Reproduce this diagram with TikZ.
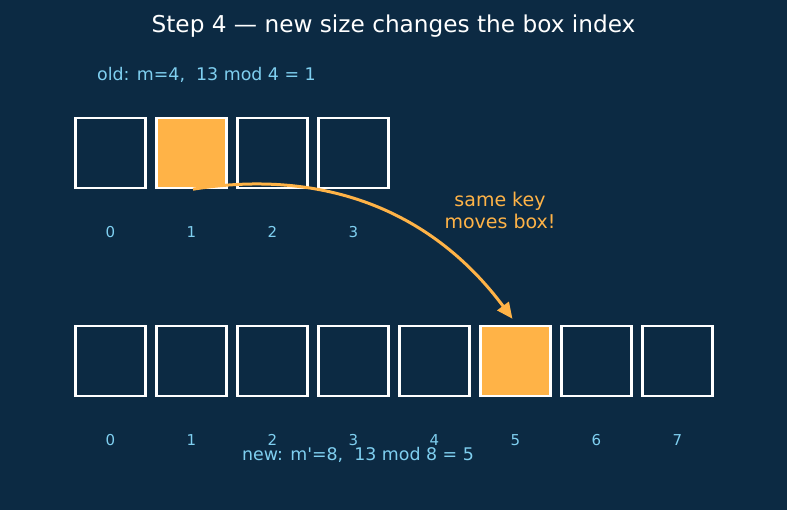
\documentclass[tikz,border=0pt]{standalone}
\usepackage{fontspec}
\setmainfont{DejaVu Sans}[Ligatures=TeXOff]
\usetikzlibrary{arrows.meta}
\definecolor{bg}{HTML}{0C2A43}
\definecolor{idx}{HTML}{7FCFF0}
\definecolor{hl}{HTML}{FFB347}
\begin{document}
\begin{tikzpicture}[x=1pt,y=-1pt,
  cell/.style={draw=white,line width=2.4pt,minimum size=70pt,inner sep=0pt,fill=bg},
  hot/.style={cell,fill=hl},
  idxlab/.style={text=idx,font=\fontsize{15}{18}\selectfont},
  note/.style={text=idx,font=\fontsize{17.4}{21}\selectfont}]
\fill[bg] (0,0) rectangle (787,510);
\useasboundingbox (0,0) rectangle (787,510);
\node[text=white,font=\fontsize{23.2}{28}\selectfont] (title) at (393.5,26.5) {Step 4 — new size changes the box index};
\node[note,anchor=west,inner sep=0pt] (old) at (97,75) {old: m=4,\ \ 13 mod 4 = 1};
\foreach \i in {0,...,3}{
  \pgfmathsetmacro{\cx}{110.5+81*\i}
  \ifnum\i=1
    \node[hot] (o\i) at (\cx,153) {};
  \else
    \node[cell] (o\i) at (\cx,153) {};
  \fi
  \node[idxlab] (ol\i) at (\cx,232) {\i};
}
\foreach \i in {0,...,7}{
  \pgfmathsetmacro{\cx}{110.5+81*\i}
  \ifnum\i=5
    \node[hot] (n\i) at (\cx,361) {};
  \else
    \node[cell] (n\i) at (\cx,361) {};
  \fi
  \node[idxlab] (nl\i) at (\cx,440) {\i};
}
\node[note] (new) at (358,455) {new: m'=8,\ \ 13 mod 8 = 5};
\node[text=hl,font=\fontsize{19}{22}\selectfont,align=center] (lbl) at (500,210) {same key\\moves box!};
\draw[hl,line width=3pt,-{Triangle[length=16pt,width=14pt]}]
  ([xshift=1.5pt]o1.south) .. controls (326,168) and (433,212) .. ([xshift=-3pt,yshift=6pt]n5.north);
\end{tikzpicture}
\end{document}
